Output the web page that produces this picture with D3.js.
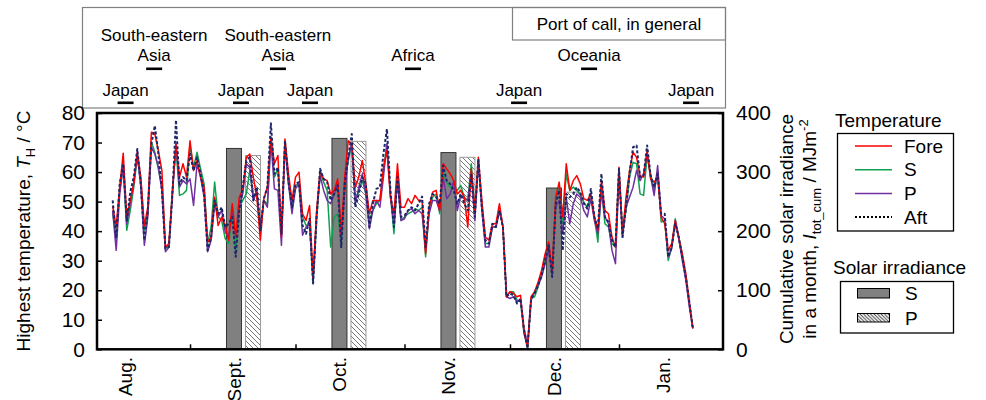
<!DOCTYPE html>
<html>
<head>
<meta charset="utf-8">
<script src="https://cdn.jsdelivr.net/npm/d3@7"></script>
<style>
  body { margin: 0; background: #fff; }
  svg { display: block; }
  text { font-family: "Liberation Sans", Arial, Helvetica, sans-serif; fill: #000; }
</style>
</head>
<body>
<svg id="chart" width="986" height="400"></svg>
<script>
// Daily highest temperature (deg C) at four positions, from 10 Aug onwards
const firstDay = "2017-08-10";
const tempFore = [
  48.5, 41.4, 54.9, 66.4, 44.8, 50.4, 56.0, 66.7, 58.3, 41.9,
  48.1, 73.5, 72.9, 67.2, 60.5, 34.6, 35.8, 53.8, 69.5, 58.3,
  62.8, 58.3, 70.6, 60.5, 63.9, 58.3, 54.9, 36.3, 38.0, 51.5,
  41.9, 44.8, 41.9, 36.9, 49.3, 38.0, 51.5, 53.8, 65.0, 66.1,
  58.3, 51.5, 36.9, 51.0, 54.9, 71.8, 62.8, 65.6, 38.0, 71.2,
  59.4, 50.4, 58.3, 60.0, 45.9, 43.6, 48.7, 24.0, 47.0, 60.5,
  57.7, 57.1, 52.6, 53.8, 57.7, 39.1, 58.3, 70.6, 69.5, 54.9,
  58.3, 63.9, 56.0, 45.9, 50.4, 50.4, 50.4, 61.6, 67.2, 51.5,
  45.9, 62.8, 48.1, 48.1, 51.0, 49.3, 52.1, 50.4, 50.4, 32.4,
  48.1, 53.2, 53.8, 47.0, 62.8, 61.1, 59.4, 57.1, 52.6, 53.8,
  51.5, 41.4, 61.1, 47.0, 65.0, 50.4, 38.0, 36.9, 42.5, 42.5,
  49.3, 41.4, 17.8, 19.5, 18.9, 17.8, 18.3, 5.4, 0.9, 17.8,
  19.5, 22.8, 26.8, 32.4, 36.3, 26.8, 51.5, 56.6, 44.8, 62.8,
  53.8, 57.1, 58.8, 56.0, 51.0, 50.4, 52.6, 44.8, 40.3, 57.1,
  47.0, 45.9, 38.0, 34.6, 61.6, 39.1, 51.5, 60.5, 66.7, 65.0,
  58.8, 58.3, 67.2, 57.7, 56.6, 58.3, 44.8, 42.5, 33.5, 35.8,
  43.6, 38.0, 32.4, 25.7, 16.1, 7.1
];
const tempS = [
  46.0, 38.0, 53.8, 61.6, 40.3, 47.0, 54.9, 65.0, 57.1, 40.3,
  45.9, 70.1, 66.7, 61.1, 54.9, 34.1, 35.2, 53.8, 68.4, 52.1,
  52.6, 53.8, 69.0, 61.6, 66.7, 61.1, 56.0, 35.8, 41.4, 56.6,
  44.8, 43.6, 37.5, 35.8, 45.9, 33.5, 48.1, 50.4, 52.6, 60.5,
  51.5, 52.6, 41.4, 50.4, 49.3, 71.8, 58.3, 61.1, 39.1, 70.6,
  56.0, 49.3, 55.5, 56.0, 44.8, 41.9, 42.5, 22.3, 43.6, 60.0,
  56.6, 53.8, 34.6, 44.8, 45.9, 35.8, 57.1, 63.9, 69.5, 50.4,
  53.8, 57.1, 52.6, 43.6, 47.0, 49.3, 50.4, 60.5, 69.5, 52.6,
  39.1, 59.4, 43.6, 44.8, 45.9, 46.5, 47.6, 47.0, 48.1, 31.3,
  47.0, 51.5, 52.6, 45.9, 60.5, 56.6, 54.9, 54.3, 53.8, 55.5,
  51.5, 50.4, 62.8, 45.9, 63.9, 48.7, 35.8, 35.8, 41.4, 41.4,
  47.0, 41.4, 17.8, 19.5, 19.5, 16.6, 16.1, 5.4, 0.3, 17.2,
  17.8, 21.1, 25.7, 31.3, 34.6, 25.7, 50.4, 54.3, 42.5, 59.4,
  53.8, 54.9, 53.8, 52.6, 49.8, 48.1, 52.1, 44.8, 36.3, 54.9,
  42.5, 41.4, 35.8, 34.6, 60.5, 40.3, 47.0, 58.3, 63.3, 62.8,
  52.6, 52.1, 65.6, 59.4, 53.8, 60.0, 43.1, 43.6, 30.1, 34.6,
  44.2, 37.5, 31.3, 24.5, 15.5, 7.1
];
const tempP = [
  47.0, 33.5, 52.6, 62.2, 42.5, 49.3, 56.6, 66.1, 54.9, 35.2,
  44.8, 68.4, 66.1, 61.6, 53.8, 33.0, 34.6, 52.6, 69.5, 54.9,
  57.1, 56.0, 57.7, 48.7, 62.8, 58.3, 51.5, 33.0, 36.9, 49.3,
  44.8, 47.0, 39.7, 38.0, 47.0, 38.0, 48.1, 52.6, 62.8, 61.6,
  50.4, 53.8, 41.4, 50.4, 48.1, 70.6, 54.3, 53.8, 35.2, 69.5,
  56.0, 45.9, 54.3, 56.0, 38.6, 41.4, 42.5, 23.4, 45.9, 58.8,
  53.8, 50.4, 49.3, 52.6, 56.6, 36.9, 53.8, 65.0, 69.5, 49.3,
  54.9, 59.4, 52.6, 40.8, 47.0, 50.4, 48.1, 58.3, 69.5, 51.5,
  42.5, 57.1, 43.6, 44.2, 47.0, 47.6, 45.9, 47.0, 45.9, 33.5,
  45.9, 50.4, 50.4, 47.0, 58.3, 51.0, 52.6, 57.1, 47.0, 52.1,
  51.0, 50.4, 59.4, 43.6, 63.3, 47.0, 34.6, 34.6, 41.4, 41.4,
  47.0, 41.4, 17.8, 17.2, 17.8, 16.1, 16.6, 7.1, 1.5, 16.6,
  19.5, 21.7, 24.5, 29.0, 33.5, 25.7, 48.1, 50.4, 39.1, 51.5,
  42.5, 49.3, 52.6, 51.5, 47.0, 44.8, 51.0, 43.6, 39.1, 53.2,
  44.8, 42.5, 33.5, 29.0, 59.4, 38.0, 48.1, 51.5, 54.9, 60.5,
  57.1, 59.4, 66.1, 58.3, 52.1, 62.2, 45.3, 44.2, 31.3, 34.1,
  43.6, 37.5, 30.1, 23.4, 14.4, 7.1
];
const tempAft = [
  50.4, 37.5, 56.0, 62.8, 43.6, 53.2, 58.3, 67.8, 56.0, 36.9,
  47.0, 69.5, 75.7, 66.1, 53.8, 34.1, 34.6, 52.6, 77.6, 56.0,
  58.3, 57.1, 66.1, 60.5, 65.0, 59.4, 52.6, 33.5, 38.0, 50.4,
  45.9, 48.1, 41.4, 42.5, 44.8, 31.3, 47.0, 54.9, 63.9, 65.0,
  50.4, 54.9, 40.3, 51.0, 54.9, 76.5, 59.4, 61.6, 39.1, 70.6,
  57.1, 48.1, 56.0, 56.6, 41.9, 39.1, 44.2, 22.3, 44.8, 61.1,
  57.7, 56.6, 50.4, 52.6, 55.5, 34.6, 56.0, 65.0, 72.9, 48.1,
  52.6, 58.3, 56.0, 41.4, 49.3, 54.3, 54.9, 66.1, 74.6, 53.8,
  41.4, 58.3, 44.8, 45.3, 47.0, 48.1, 47.0, 49.3, 51.7, 34.6,
  49.3, 52.6, 51.5, 49.3, 62.2, 57.1, 56.0, 53.8, 49.3, 52.6,
  49.3, 47.0, 59.4, 44.8, 64.5, 48.1, 36.9, 35.8, 42.5, 41.4,
  47.0, 41.4, 17.8, 18.9, 18.3, 15.5, 17.2, 6.5, 0.3, 17.2,
  18.9, 21.7, 25.1, 30.1, 35.2, 24.5, 49.3, 53.8, 33.5, 52.6,
  51.5, 52.6, 54.9, 53.2, 49.3, 47.6, 54.3, 44.8, 40.8, 59.4,
  44.8, 43.1, 36.9, 34.6, 61.1, 38.0, 48.1, 59.4, 68.4, 69.0,
  58.3, 58.8, 69.0, 58.8, 54.9, 59.4, 45.9, 45.9, 31.3, 34.6,
  42.5, 38.0, 31.3, 24.5, 16.1, 7.1
];

// Monthly cumulative solar irradiance (MJ m^-2), starboard and port side
const irrMonths = ["2017-09-13 12:00", "2017-10-13 12:00", "2017-11-13 12:00", "2017-12-13 12:00"];
const irrS = [340, 357, 333, 273];
const irrP = [328, 352, 325, 266];

// Axis ticks and month labels
const tempTicks = [0, 10, 20, 30, 40, 50, 60, 70, 80];
const irrTicks = [0, 100, 200, 300, 400];
const monthLabels = ["Aug.", "Sept.", "Oct.", "Nov.", "Dec.", "Jan."];
const monthLabelDates = ["2017-08-13 12:00", "2017-09-13 12:00", "2017-10-13 12:00",
                         "2017-11-13 12:00", "2017-12-13 12:00", "2018-01-13 12:00"];

// Ports of call along the voyage
const portNames = ["Japan", "South-eastern Asia", "Japan", "South-eastern Asia", "Japan",
                   "Africa", "Japan", "Oceania", "Japan"];
const portDates = ["2017-08-13 16:00", "2017-08-21 19:00", "2017-09-15 12:00", "2017-09-26 00:00",
                   "2017-10-05 03:00", "2017-11-03 10:00", "2017-12-03 14:00", "2017-12-23 12:00",
                   "2018-01-21 12:00"];

const parse = d3.timeParse("%Y-%m-%d %H:%M");
const start = d3.timeParse("%Y-%m-%d")(firstDay);

const svg = d3.select("#chart");
const plot = { left: 97, right: 723, top: 113, bottom: 349.3 };

const x = d3.scaleTime()
  .domain([new Date(2017, 7, 5, 13), new Date(2018, 0, 30, 14)])
  .range([plot.left, plot.right]);
const yT = d3.scaleLinear().domain([0, 80]).range([plot.bottom, plot.top]);
const yI = d3.scaleLinear().domain([0, 400]).range([plot.bottom, plot.top]);

// hatch patterns for port-side irradiance bars
const defs = svg.append("defs");
function hatch(id, size, color, width) {
  const p = defs.append("pattern").attr("id", id).attr("patternUnits", "userSpaceOnUse")
    .attr("width", size).attr("height", size);
  p.append("rect").attr("width", size).attr("height", size).attr("fill", "#fff");
  p.append("path")
    .attr("d", `M${-size / 2},${size / 2} L${size / 2},${size * 1.5} M0,0 L${size},${size} M${size / 2},${-size / 2} L${size * 1.5},${size / 2}`)
    .attr("stroke", color).attr("stroke-width", width);
}
hatch("hatchBar", 5, "#555", 0.8);
hatch("hatchKey", 3.5, "#333", 0.9);

// ---- port-of-call panel
const portPanel = svg.append("g");
portPanel.append("rect").attr("x", 82.5).attr("y", 7.5).attr("width", 643).attr("height", 100.5)
  .attr("fill", "none").attr("stroke", "#808080").attr("stroke-width", 1.2);
portPanel.append("rect").attr("x", 512.5).attr("y", 7.5).attr("width", 213).attr("height", 32.5)
  .attr("fill", "none").attr("stroke", "#808080").attr("stroke-width", 1.2);
portPanel.append("text").attr("x", 619).attr("y", 30).attr("text-anchor", "middle")
  .attr("font-size", 17).text("Port of call, in general");

portNames.forEach((name, i) => {
  const px = x(parse(portDates[i]));
  const home = name === "Japan";
  const lines = name === "South-eastern Asia" ? ["South-eastern", "Asia"] : [name];
  const baseY = home ? 96 : 61;
  lines.forEach((ln, j) => {
    portPanel.append("text").attr("x", px).attr("y", baseY - (lines.length - 1 - j) * 20)
      .attr("text-anchor", "middle").attr("font-size", 17).text(ln);
  });
  portPanel.append("rect").attr("x", px - 8).attr("y", home ? 101.5 : 67.5)
    .attr("width", 16).attr("height", 2.6).attr("fill", "#000");
});

// ---- irradiance bars
const bw = 15, gap = 4;
const bars = svg.append("g");
irrMonths.forEach((m, i) => {
  const cx = x(parse(m));
  bars.append("rect").attr("x", cx - bw / 2).attr("y", yI(irrS[i]))
    .attr("width", bw).attr("height", yI(0) - yI(irrS[i]))
    .attr("fill", "#808080").attr("stroke", "#333").attr("stroke-width", 1);
  bars.append("rect").attr("x", cx + bw / 2 + gap).attr("y", yI(irrP[i]))
    .attr("width", bw).attr("height", yI(0) - yI(irrP[i]))
    .attr("fill", "url(#hatchBar)").attr("stroke", "#9a9a9a").attr("stroke-width", 1);
});

// ---- temperature lines
const series = [
  { name: "S", values: tempS, color: "#11a04f", dash: null, w: 1.5 },
  { name: "P", values: tempP, color: "#7030a0", dash: null, w: 1.5 },
  { name: "Fore", values: tempFore, color: "#ff0000", dash: null, w: 1.5 },
  { name: "Aft", values: tempAft, color: "#1b2768", dash: "3,2", w: 2 }
];
const line = d3.line()
  .x((d, i) => x(d3.timeDay.offset(start, i)))
  .y(d => yT(d));
series.forEach(s => {
  svg.append("path").datum(s.values).attr("d", line)
    .attr("fill", "none").attr("stroke", s.color).attr("stroke-width", s.w)
    .attr("stroke-linejoin", "round")
    .attr("stroke-dasharray", s.dash);
});

// ---- axes
const axL = svg.append("g").attr("transform", `translate(${plot.left},0)`)
  .call(d3.axisLeft(yT).tickValues(tempTicks).tickSize(-5).tickPadding(12));
const axR = svg.append("g").attr("transform", `translate(${plot.right},0)`)
  .call(d3.axisRight(yI).tickValues(irrTicks).tickSize(-5).tickPadding(13));
const axB = svg.append("g").attr("transform", `translate(0,${plot.bottom})`)
  .call(d3.axisBottom(x).ticks(d3.timeMonth.every(1)).tickSize(-5).tickFormat(""));
[axL, axR, axB].forEach(a => {
  a.select(".domain").remove();
  a.selectAll(".tick line").attr("stroke", "#000").attr("stroke-width", 1.5);
  a.selectAll(".tick text").attr("font-size", 21).attr("fill", "#000")
    .attr("font-family", "\"Liberation Sans\", Arial, sans-serif");
});

svg.append("rect").attr("x", plot.left).attr("y", plot.top)
  .attr("width", plot.right - plot.left).attr("height", plot.bottom - plot.top)
  .attr("fill", "none").attr("stroke", "#000").attr("stroke-width", 2.5);

// month labels, rotated
monthLabels.forEach((m, i) => {
  const cx = x(parse(monthLabelDates[i]));
  svg.append("text").attr("transform", `translate(${cx},357) rotate(-90)`)
    .attr("text-anchor", "end").attr("dy", "0.35em").attr("font-size", 19).text(m);
});

// axis titles
const tl = svg.append("text").attr("transform", "translate(30,231) rotate(-90)")
  .attr("text-anchor", "middle").attr("font-size", 19);
tl.append("tspan").text("Highest temperature, ");
tl.append("tspan").attr("font-style", "italic").text("T");
tl.append("tspan").attr("font-size", 13).attr("dy", 5).text("H");
tl.append("tspan").attr("dy", -5).text(" / \u00B0C");

svg.append("text").attr("transform", "translate(793,229) rotate(-90)")
  .attr("text-anchor", "middle").attr("font-size", 19).text("Cumulative solar irradiance");
const tr = svg.append("text").attr("transform", "translate(816,229) rotate(-90)")
  .attr("text-anchor", "middle").attr("font-size", 19);
tr.append("tspan").text("in a month, ");
tr.append("tspan").attr("font-style", "italic").text("I");
tr.append("tspan").attr("font-size", 13).attr("dy", 5).text("tot_cum");
tr.append("tspan").attr("dy", -5).text(" / MJm");
tr.append("tspan").attr("font-size", 13).attr("dy", -8).text("-2");

// ---- legends
const lg = svg.append("g");
lg.append("text").attr("x", 835).attr("y", 127).attr("font-size", 19).text("Temperature");
lg.append("rect").attr("x", 837.5).attr("y", 133.5).attr("width", 116).attr("height", 97.5)
  .attr("fill", "none").attr("stroke", "#000").attr("stroke-width", 1.3);
const keyOrder = [
  { name: "Fore", color: "#ff0000", dash: null },
  { name: "S", color: "#11a04f", dash: null },
  { name: "P", color: "#7030a0", dash: null },
  { name: "Aft", color: "#000", dash: "2,2" }
];
keyOrder.forEach((k, i) => {
  const ky = 146 + i * 23.7;
  lg.append("line").attr("x1", 855).attr("x2", 892).attr("y1", ky).attr("y2", ky)
    .attr("stroke", k.color).attr("stroke-width", k.dash ? 2 : 1.5).attr("stroke-dasharray", k.dash);
  lg.append("text").attr("x", 904).attr("y", ky).attr("dy", "0.35em").attr("font-size", 19).text(k.name);
});

lg.append("text").attr("x", 833).attr("y", 274).attr("font-size", 19).text("Solar irradiance");
lg.append("rect").attr("x", 840.5).attr("y", 281.5).attr("width", 113).attr("height", 51.5)
  .attr("fill", "none").attr("stroke", "#000").attr("stroke-width", 1.3);
lg.append("rect").attr("x", 857.5).attr("y", 288.5).attr("width", 32).attr("height", 9.5)
  .attr("fill", "#808080").attr("stroke", "#000").attr("stroke-width", 1);
lg.append("text").attr("x", 905).attr("y", 293).attr("dy", "0.35em").attr("font-size", 19).text("S");
lg.append("rect").attr("x", 857.5).attr("y", 313.5).attr("width", 32).attr("height", 8.5)
  .attr("fill", "url(#hatchKey)").attr("stroke", "#000").attr("stroke-width", 1);
lg.append("text").attr("x", 905).attr("y", 318).attr("dy", "0.35em").attr("font-size", 19).text("P");
</script>
</body>
</html>
